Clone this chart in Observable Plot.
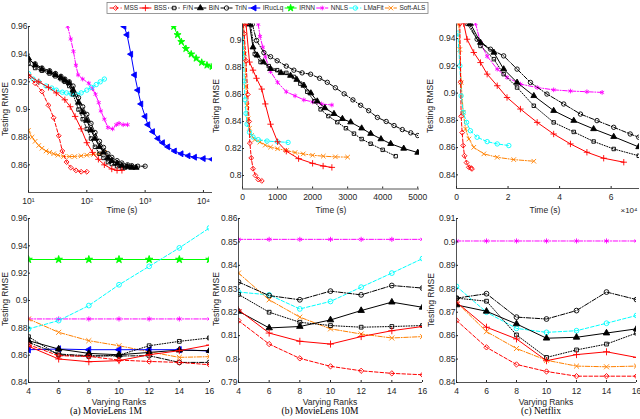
<!DOCTYPE html>
<html>
<head>
<meta charset="utf-8">
<script src="https://cdn.jsdelivr.net/npm/d3@7"></script>
<script src="https://cdn.jsdelivr.net/npm/@observablehq/plot@0.6"></script>
<style>
html,body{margin:0;padding:0;background:#fff;}
#root{position:relative;width:640px;height:419px;overflow:hidden;background:#fff;font-family:"Liberation Sans",Arial,Helvetica,sans-serif;color:#262626;}
.lab{position:absolute;font-size:8.5px;line-height:1;white-space:nowrap;transform:translate(-50%,-50%);}
.ylab{transform:translate(-50%,-50%) rotate(-90deg);}
.cap{font-family:"Liberation Serif","Times New Roman",serif;font-size:9.5px;color:#000;}
</style>
</head>
<body>
<div id="root"></div>
<script>
// ---------------- DATA ----------------
const methods = ["MSS","BSS","F/N","BiN","TriN","IRucLq","IRNN","NNLS","LMaFit","Soft-ALS"];

// (a) MovieLens 1M : [time (s), testing RMSE]
const a1_MSS = [[10,0.924],[13,0.919],[17,0.913],[22,0.903],[27,0.894],[33,0.881],[38,0.870],[45,0.862],[53,0.858],[65,0.856],[80,0.855],[100,0.855]];
const a1_BSS = [[10,0.925],[15,0.920],[22,0.916],[30,0.912],[42,0.907],[52,0.902],[63,0.895],[80,0.886],[100,0.876],[125,0.869],[158,0.864],[200,0.860],[268,0.857],[330,0.856],[400,0.856]];
const a1_FN = [[10,0.933],[13,0.930],[17,0.928],[23,0.926],[29,0.924],[36,0.922],[42,0.920],[50,0.917],[58,0.911],[72,0.900],[85,0.893],[100,0.886],[118,0.879],[138,0.873],[165,0.868],[193,0.865],[230,0.862],[268,0.8606],[330,0.859],[400,0.858],[450,0.858]];
const a1_BiN = [[10,0.937],[13,0.932],[17,0.929],[23,0.927],[29,0.925],[36,0.923],[42,0.921],[50,0.919],[58,0.914],[72,0.905],[85,0.898],[100,0.892],[118,0.885],[138,0.879],[165,0.873],[193,0.869],[230,0.865],[268,0.863],[330,0.861],[398,0.8594],[500,0.8585],[590,0.858],[700,0.858]];
const a1_TriN = [[10,0.936],[13,0.933],[17,0.930],[23,0.928],[29,0.926],[36,0.924],[42,0.922],[50,0.920],[58,0.917],[72,0.9085],[85,0.902],[100,0.8965],[118,0.890],[138,0.8834],[165,0.877],[193,0.8726],[230,0.868],[268,0.8654],[330,0.863],[398,0.8613],[500,0.860],[590,0.8594],[750,0.859],[1000,0.859]];
const a1_IRucLq = [[437,0.96],[490,0.954],[570,0.94],[660,0.925],[750,0.914],[850,0.904],[1000,0.895],[1120,0.889],[1350,0.884],[1660,0.879],[2000,0.876],[2460,0.873],[3200,0.870],[4170,0.868],[5500,0.8665],[7080,0.8655],[10000,0.8645],[14100,0.864]];
const a1_IRNN = [[3090,0.96],[3600,0.954],[4170,0.949],[5000,0.944],[6170,0.940],[7500,0.937],[9330,0.934],[11500,0.932],[14100,0.931]];
const a1_NNLS = [[47,0.96],[53,0.951],[59,0.942],[65,0.932],[71,0.925],[85,0.922],[108,0.919],[125,0.915],[141,0.911],[160,0.905],[174,0.899],[200,0.893],[230,0.887],[277,0.886],[320,0.889],[357,0.890],[420,0.889],[500,0.889]];
const a1_LMaFit = [[10,0.926],[12,0.922],[15,0.920],[20,0.917],[25,0.9155],[30,0.914],[38,0.9125],[45,0.912],[55,0.911],[65,0.911],[80,0.912],[100,0.914],[120,0.916],[145,0.918],[170,0.920],[200,0.922]];
const a1_SoftALS = [[10,0.885],[11.5,0.880],[13,0.877],[15,0.874],[17,0.872],[20,0.870],[23,0.869],[27,0.868],[32,0.867],[40,0.866],[50,0.866],[62,0.866],[80,0.8665],[100,0.867],[130,0.8675],[165,0.868],[200,0.869]];

// (b) MovieLens 10M : [time (s), testing RMSE]
const b1_MSS = [[20,0.912],[50,0.905],[100,0.885],[150,0.860],[190,0.840],[210,0.824],[250,0.813],[300,0.805],[370,0.800],[450,0.797],[550,0.796]];
const b1_BSS = [[100,0.912],[200,0.884],[300,0.878],[400,0.872],[550,0.864],[650,0.853],[800,0.838],[1000,0.825],[1250,0.818],[1600,0.8125],[2000,0.809],[2300,0.807],[2550,0.806]];
const b1_FN = [[230,0.912],[350,0.890],[514,0.884],[750,0.881],[990,0.878],[1250,0.876],[1467,0.873],[1650,0.868],[1848,0.862],[2050,0.855],[2229,0.849],[2450,0.844],[2705,0.8395],[2950,0.835],[3181,0.831],[3400,0.827],[3657,0.8235],[4000,0.819],[4371,0.8143]];
const b1_BiN = [[200,0.912],[300,0.895],[419,0.889],[600,0.884],[800,0.879],[1100,0.876],[1371,0.874],[1550,0.871],[1752,0.8667],[1950,0.861],[2133,0.855],[2350,0.850],[2610,0.8457],[2850,0.842],[3086,0.8395],[3400,0.835],[3657,0.831],[3950,0.827],[4228,0.8235],[4600,0.820],[5000,0.817]];
const b1_TriN = [[280,0.912],[400,0.900],[610,0.891],[800,0.888],[990,0.885],[1250,0.881],[1467,0.878],[1700,0.876],[1943,0.875],[2200,0.872],[2420,0.869],[2650,0.865],[2900,0.8605],[3150,0.856],[3370,0.852],[3600,0.848],[3850,0.843],[4100,0.840],[4324,0.837],[4560,0.834],[4800,0.8316],[5000,0.8296]];
const b1_NNLS = [[450,0.912],[500,0.903],[580,0.895],[650,0.888],[800,0.877],[1000,0.869],[1250,0.862],[1500,0.859],[1750,0.856],[2000,0.8545],[2250,0.853],[2550,0.8522]];
const b1_LMaFit = [[15,0.912],[30,0.890],[50,0.870],[70,0.856],[100,0.846],[130,0.838],[200,0.832],[300,0.8285],[450,0.8265],[700,0.8255],[1000,0.825],[1300,0.8245]];
const b1_SoftALS = [[30,0.912],[60,0.890],[100,0.866],[130,0.852],[160,0.842],[200,0.835],[257,0.8296],[350,0.8265],[495,0.8247],[650,0.8225],[800,0.821],[1000,0.8198],[1257,0.8185],[1500,0.817],[1733,0.816],[2000,0.815],[2305,0.8143],[2650,0.8138],[3000,0.8136]];

// (c) Netflix : [time (x10^4 s), testing RMSE]
const c1_MSS = [[0.13,0.951],[0.16,0.908],[0.18,0.883],[0.22,0.871],[0.26,0.8615],[0.31,0.854],[0.39,0.849],[0.48,0.8456],[0.56,0.845],[0.60,0.8444]];
const c1_BSS = [[0.28,0.951],[0.41,0.9395],[0.67,0.9298],[0.93,0.9224],[1.19,0.9139],[1.58,0.9054],[1.96,0.8968],[2.48,0.8883],[3.13,0.8785],[3.77,0.870],[4.42,0.8627],[5.06,0.8566],[5.71,0.8522],[6.49,0.8493]];
const c1_FN = [[0.48,0.951],[0.93,0.9346],[1.45,0.9249],[1.83,0.9139],[2.35,0.9041],[3.0,0.8907],[3.77,0.8785],[4.55,0.8715],[5.32,0.8645],[6.1,0.8590],[7.07,0.8540]];
const c1_BiN = [[0.54,0.951],[0.93,0.9371],[1.45,0.9298],[1.83,0.9176],[2.35,0.9078],[3.0,0.898],[3.77,0.8871],[4.55,0.8798],[5.32,0.8737],[6.1,0.8680],[7.07,0.8605]];
const c1_TriN = [[0.41,0.951],[0.8,0.9395],[1.32,0.9322],[1.83,0.9273],[2.35,0.9176],[2.87,0.9078],[3.51,0.8993],[4.16,0.892],[4.81,0.8846],[5.45,0.8798],[6.1,0.8749],[6.74,0.870],[7.07,0.8676]];
const c1_NNLS = [[0.74,0.951],[0.93,0.937],[1.19,0.927],[1.58,0.9176],[1.96,0.9115],[2.48,0.9066],[3.13,0.9041],[3.77,0.9024],[4.42,0.9015],[5.06,0.901],[5.65,0.9005]];
const c1_LMaFit = [[0.05,0.944],[0.13,0.920],[0.18,0.898],[0.26,0.8859],[0.39,0.8785],[0.54,0.8724],[0.8,0.8676],[1.19,0.8644],[1.58,0.8627],[2.03,0.8615]];
const c1_SoftALS = [[0.09,0.951],[0.13,0.932],[0.18,0.9078],[0.26,0.8859],[0.35,0.8737],[0.48,0.8663],[0.67,0.8602],[1.06,0.8554],[1.58,0.8529],[2.22,0.8512],[3.0,0.850]];

// Varying ranks panels
const ranks = [4,6,8,10,12,14,16];
const a2_MSS = [0.8677,0.8596,0.8591,0.8564,0.8554,0.8547,0.8530];
const a2_BSS = [0.8665,0.8572,0.8552,0.8560,0.8603,0.8633,0.8674];
const a2_FN = [0.8735,0.8600,0.8591,0.8600,0.8669,0.8701,0.8726];
const a2_BiN = [0.8706,0.8645,0.8613,0.8603,0.8620,0.8637,0.8633];
const a2_TriN = [0.8694,0.8608,0.8596,0.8594,0.8596,0.8547,0.8547];
const a2_IRucLq = [0.8640,0.8645,0.8640,0.8640,0.8640,0.8640,0.8630];
const a2_IRNN = [0.930,0.930,0.930,0.930,0.930,0.930,0.930];
const a2_NNLS = [0.8865,0.8865,0.8865,0.8865,0.8865,0.8865,0.8865];
const a2_LMaFit = [0.8792,0.8853,0.8963,0.9115,0.9250,0.9385,0.9531];
const a2_SoftALS = [0.8865,0.8767,0.8706,0.8669,0.8625,0.8584,0.8589];

const b2_MSS = [0.8164,0.8064,0.8003,0.7969,0.7950,0.7939,0.7933];
const b2_BSS = [0.8210,0.8111,0.8076,0.8064,0.8096,0.8121,0.8139];
const b2_FN = [0.8276,0.8200,0.8157,0.8143,0.8136,0.8139,0.8143];
const b2_BiN = [0.8204,0.8133,0.8139,0.8167,0.8207,0.8243,0.8221];
const b2_TriN = [0.8329,0.8271,0.8253,0.8290,0.8274,0.8314,0.8303];
const b2_NNLS = [0.8511,0.8511,0.8511,0.8511,0.8511,0.8511,0.8511];
const b2_LMaFit = [0.8286,0.8274,0.8214,0.8246,0.8307,0.8367,0.8429];
const b2_SoftALS = [0.8367,0.8253,0.8179,0.8129,0.8107,0.8090,0.8096];

const c2_MSS = [0.8665,0.8550,0.8477,0.8447,0.8427,0.8427,0.8427];
const c2_BSS = [0.8743,0.8636,0.8586,0.8493,0.8519,0.8531,0.8507];
const c2_FN = [0.8760,0.8747,0.8603,0.8507,0.8539,0.8564,0.8611];
const c2_BiN = [0.8731,0.8704,0.8650,0.8589,0.8593,0.8611,0.8629];
const c2_TriN = [0.8760,0.8779,0.8679,0.8671,0.8707,0.8786,0.8754];
const c2_NNLS = [0.9004,0.9004,0.9004,0.9004,0.9004,0.9004,0.9004];
const c2_LMaFit = [0.8810,0.8700,0.8631,0.8614,0.8621,0.8653,0.8686];
const c2_SoftALS = [0.8743,0.8617,0.8545,0.8495,0.8470,0.8467,0.8470];

// Tick values
const xTicksLog = [10,100,1000,10000];
const xTicksB1 = [0,1000,2000,3000,4000,5000];
const xTicksC1 = [0,2,4,6];
const yTicksA1 = [0.86,0.88,0.9,0.92,0.94,0.96];
const yTicksB1 = [0.8,0.82,0.84,0.86,0.88,0.9];
const yTicksC1 = [0.84,0.86,0.88,0.9,0.92,0.94];
const yTicksA2 = [0.84,0.86,0.88,0.9,0.92,0.94,0.96];
const yTicksB2 = [0.79,0.8,0.81,0.82,0.83,0.84,0.85,0.86];
const yTicksC2 = [0.84,0.85,0.86,0.87,0.88,0.89,0.9,0.91];

// ---------------- STYLE ----------------
const W = 640, H = 419;
const FONT = '"Liberation Sans",Arial,Helvetica,sans-serif';
const DASH = "3.5,2", DOT = "1,1.6", DASHDOT = "4.5,1.6,1,1.6";
const methodStyle = {
  "MSS":      {stroke:"#ff0000", dash:DASH,    symbol:"diamond2", fill:"none",    rot:0},
  "BSS":      {stroke:"#ff0000", dash:null,    symbol:"plus",     fill:"none",    rot:0},
  "F/N":      {stroke:"#000000", dash:DOT,     symbol:"square2",  fill:"none",    rot:0},
  "BiN":      {stroke:"#000000", dash:null,    symbol:"triangle", fill:"#000000", rot:0},
  "TriN":     {stroke:"#000000", dash:DASHDOT, symbol:"circle",   fill:"none",    rot:0},
  "IRucLq":   {stroke:"#0000ff", dash:null,    symbol:"triangle", fill:"#0000ff", rot:-90},
  "IRNN":     {stroke:"#00ff00", dash:null,    symbol:"star",     fill:"#00ff00", rot:0},
  "NNLS":     {stroke:"#ff00ff", dash:DASHDOT, symbol:"asterisk", fill:"none",    rot:0},
  "LMaFit":   {stroke:"#00ffff", dash:DASH,    symbol:"circle",   fill:"none",    rot:0},
  "Soft-ALS": {stroke:"#ff8000", dash:DASHDOT, symbol:"times",    fill:"none",    rot:0}
};
const supDigits = {"1":"\u00b9","2":"\u00b2","3":"\u00b3","4":"\u2074"};
const fmtLog = d => "10" + supDigits[String(Math.round(Math.log10(d)))];
const fmtY = d3.format(".2~f");
const fmtInt = d3.format("d");

const rankPts = vals => ranks.map((r, i) => [r, vals[i]]);

function makePanel(cfg) {
  const [L, T, R, B] = cfg.box;
  const marks = [];
  for (const [name, pts] of cfg.series) {
    const s = methodStyle[name];
    marks.push(Plot.line(pts, {x: d => d[0], y: d => d[1], stroke: s.stroke, strokeWidth: 1,
      strokeDasharray: s.dash || undefined, clip: true}));
    marks.push(Plot.dot(pts, {x: d => d[0], y: d => d[1], symbol: s.symbol, r: cfg.r,
      stroke: s.stroke, fill: s.fill, strokeWidth: 0.9, rotate: s.rot, clip: true}));
  }
  marks.push(Plot.ruleX([cfg.x.domain[0]], {stroke: "#262626", strokeWidth: 0.8}));
  marks.push(Plot.ruleY([cfg.y.domain[0]], {stroke: "#262626", strokeWidth: 0.8}));
  marks.push(Plot.axisX({ticks: cfg.xTicks, tickFormat: cfg.xFmt, tickSize: -2, tickPadding: 7, fontSize: 8.5}));
  marks.push(Plot.axisY({ticks: cfg.yTicks, tickFormat: fmtY, tickSize: -2, tickPadding: 3, fontSize: 8.5}));
  return Plot.plot({
    width: W, height: H,
    marginLeft: L, marginTop: T, marginRight: W - R, marginBottom: H - B,
    x: {...cfg.x, label: null}, y: {...cfg.y, label: null},
    style: {position: "absolute", left: "0px", top: "0px", background: "transparent",
      overflow: "visible", color: "#262626", fontFamily: FONT, fontSize: "8.5px", maxWidth: "none"},
    marks
  });
}

const panels = [
  {series: [["IRNN",a1_IRNN],["IRucLq",a1_IRucLq],["NNLS",a1_NNLS],["Soft-ALS",a1_SoftALS],["LMaFit",a1_LMaFit],
            ["F/N",a1_FN],["BiN",a1_BiN],["TriN",a1_TriN],["BSS",a1_BSS],["MSS",a1_MSS]],
   box: [28, 26, 212, 192], x: {type: "log", domain: [10, 14300]}, y: {domain: [0.84, 0.96]},
   xTicks: xTicksLog, xFmt: fmtLog, yTicks: yTicksA1, r: 2.2},
  {series: [["NNLS",b1_NNLS],["Soft-ALS",b1_SoftALS],["LMaFit",b1_LMaFit],
            ["F/N",b1_FN],["BiN",b1_BiN],["TriN",b1_TriN],["BSS",b1_BSS],["MSS",b1_MSS]],
   box: [242, 23.5, 419, 188.5], x: {domain: [0, 5050]}, y: {domain: [0.79, 0.9122]},
   xTicks: xTicksB1, xFmt: fmtInt, yTicks: yTicksB1, r: 2.2},
  {series: [["NNLS",c1_NNLS],["Soft-ALS",c1_SoftALS],["LMaFit",c1_LMaFit],
            ["F/N",c1_FN],["BiN",c1_BiN],["TriN",c1_TriN],["BSS",c1_BSS],["MSS",c1_MSS]],
   box: [456, 23.5, 639, 188], x: {domain: [0, 7.1]}, y: {domain: [0.83, 0.9507]},
   xTicks: xTicksC1, xFmt: fmtInt, yTicks: yTicksC1, r: 2.2},
  {series: [["IRNN",rankPts(a2_IRNN)],["NNLS",rankPts(a2_NNLS)],["LMaFit",rankPts(a2_LMaFit)],["Soft-ALS",rankPts(a2_SoftALS)],
            ["IRucLq",rankPts(a2_IRucLq)],["F/N",rankPts(a2_FN)],["BiN",rankPts(a2_BiN)],["TriN",rankPts(a2_TriN)],
            ["BSS",rankPts(a2_BSS)],["MSS",rankPts(a2_MSS)]],
   box: [28, 218, 209, 382], x: {domain: [4, 16]}, y: {domain: [0.84, 0.96]},
   xTicks: ranks, xFmt: fmtInt, yTicks: yTicksA2, r: 2.4},
  {series: [["NNLS",rankPts(b2_NNLS)],["LMaFit",rankPts(b2_LMaFit)],["Soft-ALS",rankPts(b2_SoftALS)],
            ["F/N",rankPts(b2_FN)],["BiN",rankPts(b2_BiN)],["TriN",rankPts(b2_TriN)],
            ["BSS",rankPts(b2_BSS)],["MSS",rankPts(b2_MSS)]],
   box: [238, 218, 422, 382], x: {domain: [4, 16]}, y: {domain: [0.79, 0.86]},
   xTicks: ranks, xFmt: fmtInt, yTicks: yTicksB2, r: 2.4},
  {series: [["NNLS",rankPts(c2_NNLS)],["LMaFit",rankPts(c2_LMaFit)],["Soft-ALS",rankPts(c2_SoftALS)],
            ["F/N",rankPts(c2_FN)],["BiN",rankPts(c2_BiN)],["TriN",rankPts(c2_TriN)],
            ["BSS",rankPts(c2_BSS)],["MSS",rankPts(c2_MSS)]],
   box: [456, 218, 636, 382], x: {domain: [4, 16]}, y: {domain: [0.84, 0.91]},
   xTicks: ranks, xFmt: fmtInt, yTicks: yTicksC2, r: 2.4}
];

const root = document.getElementById("root");
for (const p of panels) root.appendChild(makePanel(p));

// ---------------- TEXT LABELS ----------------
function label(text, x, y, cls) {
  const d = document.createElement("div");
  d.className = "lab " + (cls || "");
  d.style.left = x + "px"; d.style.top = y + "px";
  d.textContent = text;
  root.appendChild(d);
}
[[5,109],[216,106],[430,106],[5,299],[216,299],[431,300]].forEach(([x,y]) => label("Testing RMSE", x, y, "ylab"));
[[122,210],[331,210],[545,210]].forEach(([x,y]) => label("Time (s)", x, y));
[[119,402],[330,402],[546,402]].forEach(([x,y]) => label("Varying Ranks", x, y));
label("(a) MovieLens 1M", 106, 412, "cap");
label("(b) MovieLens 10M", 320, 412, "cap");
label("(c) Netflix", 541, 412, "cap");
const e4 = document.createElement("div");
e4.className = "lab"; e4.style.fontSize = "8px";
e4.style.left = "629px"; e4.style.top = "211px";
e4.textContent = "\u00d710\u2074";
root.appendChild(e4);

// ---------------- LEGEND ----------------
const symMap = {diamond2: d3.symbolDiamond2, plus: d3.symbolPlus, square2: d3.symbolSquare2, triangle: d3.symbolTriangle,
  circle: d3.symbolCircle, star: d3.symbolStar, asterisk: d3.symbolAsterisk, times: d3.symbolTimes};
const leg = d3.select(root).append("svg").attr("width", W).attr("height", 18)
  .style("position", "absolute").style("left", "0px").style("top", "0px");
const boxL = 107, boxT = 2.5, boxW = 321, boxH = 11;
leg.append("rect").attr("x", boxL).attr("y", boxT).attr("width", boxW).attr("height", boxH)
  .attr("fill", "#fff").attr("stroke", "#808080").attr("stroke-width", 0.8);
const lg = leg.append("g").attr("font-family", FONT).attr("font-size", 6.5).attr("fill", "#262626");
const legTexts = methods.map(m => lg.append("text").attr("y", boxT + boxH / 2 + 2.3).text(m));
const widths = legTexts.map(t => t.node().getComputedTextLength());
const sw = 12, g1 = 2.5;
const gap = (boxW - 4 - d3.sum(widths) - methods.length * (sw + g1)) / methods.length;
let cx = boxL + 2 + gap / 2;
const cy = boxT + boxH / 2;
methods.forEach((m, i) => {
  const s = methodStyle[m];
  lg.append("line").attr("x1", cx).attr("x2", cx + sw).attr("y1", cy).attr("y2", cy)
    .attr("stroke", s.stroke).attr("stroke-width", 1).attr("stroke-dasharray", s.dash || null);
  lg.append("path").attr("d", d3.symbol(symMap[s.symbol], Math.PI * 2.2 * 2.2)())
    .attr("transform", `translate(${cx + sw / 2},${cy}) rotate(${s.rot})`)
    .attr("fill", s.fill).attr("stroke", s.stroke).attr("stroke-width", 0.9);
  legTexts[i].attr("x", cx + sw + g1);
  cx += sw + g1 + widths[i] + gap;
});
</script>
</body>
</html>
